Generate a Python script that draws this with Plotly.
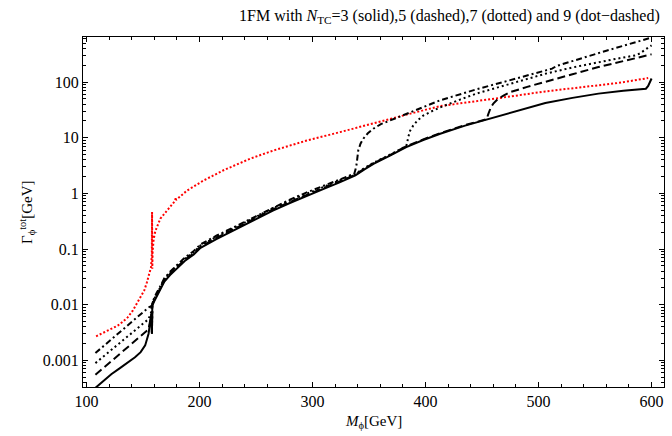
import plotly.graph_objects as go

# ---- data ----
m_n3 = [108, 115, 122, 130, 137, 143, 148, 152, 155, 156.5, 157.5, 158.0, 158.3, 160, 162, 165, 169, 174, 178,
        187, 195, 201, 215, 236, 250, 265, 280, 295, 310, 324, 338, 346, 354, 369, 383, 398, 413, 435, 457, 480,
        506, 530, 553, 575, 595, 597, 598.5, 600]
g_n3 = [3.2e-4, 4.2e-4, 5.6e-4, 7.3e-4, 9.3e-4, 1.13e-3, 1.4e-3, 1.85e-3, 3.0e-3, 4.8e-3, 6.8e-3, 3.0e-3, 9.6e-3,
        0.0115, 0.014, 0.018, 0.026, 0.034, 0.041, 0.061, 0.08, 0.105, 0.15, 0.245, 0.34, 0.49, 0.67, 0.91, 1.2,
        1.58, 2.1, 2.7, 3.4, 4.8, 6.8, 9.1, 11.8, 16.5, 22, 30, 42, 52, 62, 70, 76, 85, 100, 116]

m_n5 = [108, 115, 122, 130, 137, 143, 148, 152, 155, 157.5, 158.0, 158.3, 160, 162, 165, 169, 174, 178, 187, 195,
        201, 215, 236, 250, 265, 280, 295, 310, 324, 338, 346, 354, 369, 383, 398, 413, 435, 454, 455.7, 457.9,
        460, 464.1, 469, 475, 490, 506, 530, 553, 575, 600]
g_n5 = [5.5e-4, 7.3e-4, 9.6e-4, 1.33e-3, 1.76e-3, 2.24e-3, 2.74e-3, 3.2e-3, 3.6e-3, 6.8e-3, 3.0e-3, 0.0101,
        0.0121, 0.0147, 0.0189, 0.0273, 0.0357, 0.043, 0.064, 0.084, 0.110, 0.158, 0.257, 0.357, 0.515, 0.70,
        0.95, 1.25, 1.64, 2.17, 2.78, 3.5, 4.94, 7.0, 9.35, 12.1, 16.9, 21.5, 27, 35.5, 41, 50, 57, 66, 82, 100,
        138, 186, 240, 315]

m_n7 = [108, 115, 122, 130, 137, 143, 148, 152, 155, 157.5, 158.0, 158.3, 160, 162, 165, 169, 174, 178, 187, 195,
        201, 215, 236, 250, 265, 280, 295, 310, 324, 338, 346, 354, 369, 383, 384, 384.7, 386.5, 389.1, 393, 398,
        405, 413, 430, 445, 460, 475, 490, 506, 530, 553, 570, 586, 590, 595, 600]
g_n7 = [8.9e-4, 1.17e-3, 1.53e-3, 2.09e-3, 2.75e-3, 3.47e-3, 4.2e-3, 4.9e-3, 5.5e-3, 7.5e-3, 3.0e-3, 0.0106,
        0.0127, 0.0154, 0.0198, 0.0286, 0.0374, 0.045, 0.067, 0.088, 0.116, 0.165, 0.27, 0.374, 0.54, 0.74, 1.0,
        1.31, 1.72, 2.25, 2.85, 3.55, 5.0, 7.05, 8.5, 10.2, 13.5, 16.5, 20.5, 25, 29.5, 35, 48, 62, 76, 93, 116,
        141, 183, 229, 265, 302, 330, 390, 457]

m_n9 = [108, 115, 122, 130, 137, 143, 148, 152, 155, 157.5, 158.0, 158.3, 160, 162, 165, 169, 174, 178, 187, 195,
        201, 215, 236, 250, 265, 280, 295, 310, 324, 337, 338.3, 339.1, 340.5, 342.5, 345, 349, 353.8, 360.5,
        368.6, 383.3, 398, 413, 444, 475, 500, 512, 516, 522, 540, 560, 580, 600]
g_n9 = [1.35e-3, 1.79e-3, 2.37e-3, 3.27e-3, 4.33e-3, 5.5e-3, 6.7e-3, 7.9e-3, 8.9e-3, 9.5e-3, 3.0e-3, 0.011,
        0.0132, 0.0161, 0.0207, 0.030, 0.039, 0.047, 0.070, 0.092, 0.121, 0.173, 0.28, 0.39, 0.56, 0.77, 1.04,
        1.37, 1.78, 2.25, 2.8, 3.4, 5.9, 7.8, 9.6, 12, 14.5, 17.5, 20.4, 27, 35.5, 47, 73, 107, 150, 174, 195,
        213, 275, 366, 480, 630]

m_red = [108.6, 115.9, 122, 127.7, 132, 136.5, 141, 145.3, 148.5, 151.2, 153.5, 155.7, 157.2, 157.9, 158.1, 158.3,
         158.6, 159.5, 161, 165.4, 171.3, 178.6, 179.0, 179.3, 189, 203.6, 221.3, 236, 244.9, 265.5, 295, 324.4,
         353.8, 383.3, 412.7, 445, 475, 506, 540, 570, 597]
g_red = [0.0027, 0.0032, 0.0036, 0.0042, 0.0049, 0.0059, 0.0078, 0.011, 0.014, 0.018, 0.025, 0.038, 0.047, 0.08,
         0.46, 0.044, 0.09, 0.15, 0.21, 0.35, 0.49, 0.74, 0.84, 0.76, 1.12, 1.7, 2.6, 3.5, 4.2, 5.9, 8.9, 12.6,
         18.3, 26, 37, 45, 55, 68, 81, 96, 118]

x_ticks = [100, 200, 300, 400, 500, 600]
y_ticks = [0.001, 0.01, 0.1, 1, 10, 100]
y_tick_text = ["0.001", "0.01", "0.1", "1", "10", "100"]

title_text = ("1FM with <i>N</i><sub>TC</sub>=3 (solid),5 (dashed),7 (dotted) and 9 (dot\u2212dashed)")

FONT = "Liberation Serif, Times New Roman, serif"

fig = go.Figure()
fig.add_trace(go.Scatter(x=m_red, y=g_red, mode="lines", line=dict(color="#ff0000", width=2, dash="2px,2px")))
fig.add_trace(go.Scatter(x=m_n9, y=g_n9, mode="lines", line=dict(color="black", width=2, dash="6px,3px,2px,3px")))
fig.add_trace(go.Scatter(x=m_n7, y=g_n7, mode="lines", line=dict(color="black", width=2, dash="2px,3px")))
fig.add_trace(go.Scatter(x=m_n5, y=g_n5, mode="lines", line=dict(color="black", width=2, dash="8px,4px")))
fig.add_trace(go.Scatter(x=m_n3, y=g_n3, mode="lines", line=dict(color="black", width=2)))

axis_common = dict(showgrid=False, zeroline=False, showline=True, linecolor="black", linewidth=1,
                   mirror="ticks", ticks="inside", tickcolor="black", ticklen=5, tickwidth=1,
                   tickfont=dict(family=FONT, size=16, color="black"))

fig.update_xaxes(range=[97, 611], tickvals=x_ticks, ticktext=[str(v) for v in x_ticks],
                 minor=dict(ticks="inside", ticklen=3, dtick=20, tickcolor="black", showgrid=False),
                 **axis_common)
fig.update_yaxes(type="log", range=[-3.48, 2.81], tickvals=y_ticks, ticktext=y_tick_text,
                 minor=dict(ticks="inside", ticklen=3, dtick="D1", tickcolor="black", showgrid=False),
                 **axis_common)

fig.update_layout(
    width=672, height=436,
    margin=dict(l=83, r=8, t=37, b=49),
    paper_bgcolor="white", plot_bgcolor="white",
    showlegend=False,
    font=dict(family=FONT, size=16, color="black"),
    annotations=[
        dict(text=title_text, xref="paper", yref="paper", x=(449 - 83) / 581, y=1 + 20 / 350,
             xanchor="center", yanchor="middle", showarrow=False, font=dict(family=FONT, size=16)),
        dict(text="<i>M</i><sub>\u03d5</sub>[GeV]", xref="paper", yref="paper", x=0.5, y=-35 / 350,
             xanchor="center", yanchor="middle", showarrow=False, font=dict(family=FONT, size=15)),
        dict(text="\u0393<sub>\u03d5</sub><sup>tot</sup>[GeV]", xref="paper", yref="paper", x=-56 / 581, y=0.5,
             xanchor="center", yanchor="middle", textangle=-90, showarrow=False, font=dict(family=FONT, size=15)),
    ],
)

fig.write_html("out.html", config={"displayModeBar": False},
               post_script="document.body.style.margin='0';document.body.style.padding='0';")
